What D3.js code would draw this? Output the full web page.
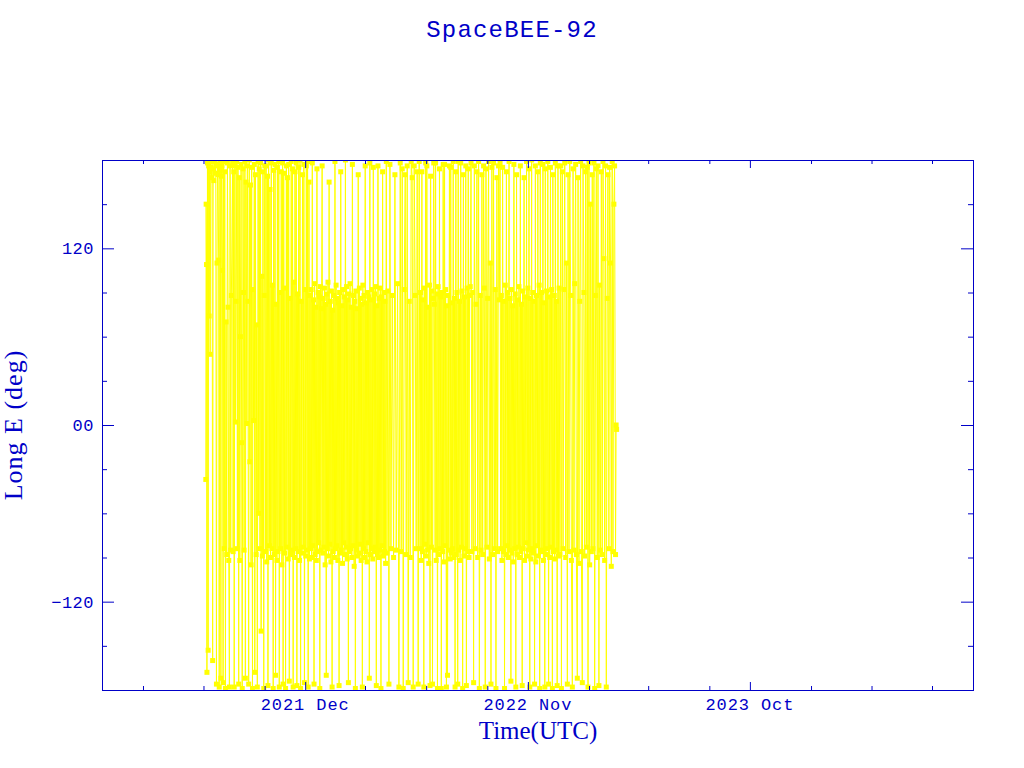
<!DOCTYPE html>
<html><head><meta charset="utf-8">
<script src="https://cdn.jsdelivr.net/npm/d3@7"></script>
<style>body{margin:0;background:#fff}svg{display:block}</style>
</head><body>
<svg id="c" width="1024" height="768"></svg>
<script>
// ---- data: day offsets from 2021-07-01 UTC and East longitude (deg) ----
const epoch0 = "2021-07-01";
const daysA = [3.5,4,4.6,5.2,6,7,7.8,8.5,9.3,10,11,12,13,13.8,14.6,15.5,16.5,17.5,18.5,19.5,
  20.3,21.2,22,22.8,23.7,24.5,25.4,26.2,27,27.8,28.6,29.5,30.3,31.2,32,33,34,35,36,37,38,39,40,41,42];
const lonA  = [-37,150,109,-168,178,-153,176,74,172,48,175,168,179,-160,174,166,180,171,177,-176,
  110,176,170,112,-178,178,173,-172,169,176,105,-175,179,-84,172,-179,70,-88,178,80,-92,-178,176,-85,88];
const daysB = [43.8,44.6,45.5,46.2,47.3,48.1,49,50.2,51,51.9,53,53.8,54.7,55.5,56.6,57.4,58.3,59.5,60.2,61.1,
  62.3,63,64,65.2,66,66.8,68,68.9,69.7,70.8,71.6,72.5,73.7,74.4,75.3,76.5,77.2,78.1,79.3,80,
  81,82.2,83,83.9,85,85.8,86.7,87.9,88.6,89.5,90.7,91.4,92.3,93.5,94.2,95.1,96.3,97,98,99.2,
  100,100.9,102,102.8,103.7,104.9,105.6,106.5,107.7,108.4,109.3,110.5,111.2,112.1,113.3,114,115,116.2,117,117.9,
  119,119.8,120.7,121.9,122.6,123.5,124.7,125.4,126.3,127.5,128.2,129.1,130.3,131,132,133.2,134,134.9,136,136.8,
  137.7,138.9,139.6,140.5,141.7,142.4,143.3,144.5,145.2,146.1,147.3,148,149,150.2,151,
  151.9,153,153.8,154.7,155.9,156.6,157.5,158.7,159.4];
const lonB  = [178,-86,172,-178,176,2,84,179,-84,175,-176,168,-92,60,177,-12,-179,174,90,-85,
  179,-172,165,1,176,84,-176,180,-25,163,-95,175,-179,92,3,177,-168,170,-88,68,
  -178,179,-60,174,-84,178,-140,101,-89,172,-179,88,176,-86,176,-93,169,-177,180,-82,
  160,-90,178,-84,95,-179,173,-88,177,-170,82,-92,175,-86,179,-178,90,-84,172,-95,
  178,-176,171,-87,93,-179,176,-83,168,-91,177,-174,86,-88,179,-85,174,-178,97,-90,
  172,-84,178,-177,89,-86,175,-92,180,-179,84,-87,170,-83,177,-175,92,-89,176,-85,
  179,-178,165,-91];
const daysC = [160.3,161,162,162.8,163.7,164.5,165.5,166.3,167.2,168,169,169.8,170.7,171.5,172.5,173.3,174.2,175,176,176.8,
  177.7,178.5,179.5,180.3,181.2,182,183,183.8,184.7,185.5,186.5,187.3,188.2,189,190,190.8,191.7,192.5,193.5,194.3,
  195.2,196,197,197.8,198.7,199.5,200.5,201.3,202.2,203,204,204.8,205.7,206.5,207.5,208.3,209.2,210,211,211.8,
  212.7,213.5,214.5,215.3,216.2,217,218,218.8,219.7,220.5,221.5,222.3,223.2,224,225,225.8,226.7,227.5,228.5,229.3,
  230.2,231,232,232.8,233.7,234.5,235.5,236.3,237.2,238,239,239.8,240.7,241.5,242.5,243.3,244.2,245,246,246.8,
  247.7,248.5,249.5,250.3,251.2,252,253,253.8,254.7,255.5,256.5,257.3,258.2,259,260,260.8,261.7,262.5,263.5,264.3,
  265.2,266,267,267.8,268.7,269.5,270.5,271.3,272.2,273,274,275,276,277.5,279,280.5,282,284,286,288,
  290,292,294];
const lonC  = [88,-84,92,-90,178,-82,85,-176,96,-88,80,-92,174,-86,90,-80,87,-179,94,-85,
  79,176,-87,86,-83,93,-95,82,-170,89,-84,97,-89,165,-81,84,-93,91,-178,78,
  -86,88,-90,179,-84,95,-82,86,-92,83,-177,90,-87,172,-85,81,-94,92,-80,87,
  -88,180,-83,94,-91,85,-175,89,-86,96,-84,80,-90,177,-82,88,-96,84,-179,91,
  -85,79,-89,170,-87,93,-81,86,-92,82,-178,95,-84,88,-90,176,-86,83,-93,90,
  -80,87,-172,178,-88,85,-84,92,-91,175,-86,89,-83,94,-177,81,-88,176,-90,86,
  -85,93,-179,87,-82,172,-89,90,-86,84,-94,179,-87,91,-176,177,-84,88,-90,170,
  -85,96,-178];
const daysD = [296,297.5,299,300.5,302,303.5,305,306.5,308,309.5,311,312.5,314,315.5,317,318.5,320,321.5,323,324.5];
const lonD  = [178,-86,174,-179,92,170,-88,176,-175,84,-90,179,168,-178,176,88,-84,172,-176,179];
const daysE = [325.8,326.7,327.5,328.6,329.4,330.3,331.5,332.2,333.1,334.3,335,336,337.2,338,338.9,340,340.8,341.7,342.9,343.6,
  344.5,345.7,346.4,347.3,348.5,349.2,350.1,351.3,352,353,354.2,355,355.9,357,357.8,358.7,359.9,360.6,361.5,362.7,
  363.4,364.3,365.5,366.2,367.1,368.3,369,370,371.2,372,372.9,374,374.8,375.7,376.9,377.6,378.5,379.7,380.4,381.3,
  382.5,383.2,384.1,385.3,386,387,388.2,389,389.9,391,391.8,392.7,393.9,394.6,395.5,396.7,397.4,398.3,399.5,400.2];
const lonE  = [-84,90,-92,172,-86,85,-178,93,-81,178,-89,176,-85,80,-94,95,-177,169,-83,91,
  -176,86,178,82,-85,178,-92,89,-179,94,-88,174,-84,87,-179,90,-86,177,-93,177,
  -82,92,-178,81,-170,88,-85,176,-91,175,-87,83,-84,179,-90,86,-178,172,-88,90,
  -176,179,-85,84,-92,178,-83,91,-179,170,-89,87,-84,176,-177,93,-86,174,-90,88];
const daysF = [401.3,402.5,403.8,405,406.4,407.5,408.9,410,411.4,412.5,413.9,415,416.4,417.5,418.9,420,421.4,422.5,423.9,425,
  426.4,427.5,428.9,430,431.4,432.5,433.9,435,436.4,437.5,438.9,440,441.4,442.5,443.9,445];
const lonF  = [94,178,-86,90,-175,176,-84,82,172,-90,179,-179,88,-85,170,-88,176,93,-178,174,
  -83,86,179,-91,110,-176,175,-88,178,-84,92,-179,168,-86,176,85];
const daysG = [446.2,447,448.1,449,450,451.2,452,452.9,454,454.8,455.7,456.9,457.6,458.5,459.7,460.4,461.3,462.5,463.2,464.1,
  465.3,466,467,468.2,469,469.9,471,471.8,472.7,473.9,474.6,475.5,476.7,477.4,478.3,479.5,480.2,481.1,482.3,483,
  484,485.2,486,486.9,488,488.8,489.7,490.9,491.6,492.5,493.7,494.4,495.3,496.5,497.2,498.1,499.3,500,501,502.2,
  503,503.9,505,505.8,506.7,507.9,508.6,509.5,510.7,511.4,512.3,513.5,514.2,515.1,516.3,517,518,519.2,520,520.9,
  522,522.8,523.7,524.9,525.6,526.5,527.7,528.4,529.3,530.5,531.2,532.1,533.3,534,535];
const lonG  = [178,-84,88,-92,175,-86,84,-179,95,-88,172,-82,90,-90,179,-85,86,-174,92,-87,
  81,-93,177,-84,89,-178,170,-88,85,-83,94,-90,176,-86,82,-177,91,-84,168,-92,
  87,-80,179,-89,93,-85,174,-178,86,-91,180,-84,90,-87,84,-176,176,-93,88,-82,
  172,-89,95,-179,178,-86,90,-85,177,-92,83,-178,174,-88,91,-84,179,-176,87,-90,
  175,-83,92,-179,170,-86,88,-91,178,-85,84,-177,176,-89,93];
const daysH = [536.2,537.4,538.5,539.9,541,542.4,543.5,544.9,546,547.4,548.5,549.9,551,552.4,553.5,554.9,556,557.4,558.5,559.9,
  561,562.4,563.5,564.9,566,567.4,568.5,569.9,571,572.4,573.5,574.9,576,577.4,578.5,579.9,581,582.4,583.5,584.9,
  586,587.4,588.5,589.9,591,592.4,593.5,594.9,596,597.4,598.5,599.9,601,602.4,603.5,604.9,606,607.4,608.5,609.9,
  611,612.4,613.5,614.9,616,617.4,618.5,619.9,620.8,621.5];
const lonH  = [-88,176,-179,172,-84,92,178,-90,110,-176,170,-86,179,88,-92,-178,174,-85,96,177,
  -88,-172,168,-94,84,179,-86,-175,176,90,-89,172,-83,175,-178,178,-95,150,-86,170,
  -84,178,-179,88,174,-90,176,-177,95,-85,172,-88,179,113,-92,176,-178,86,170,-84,
  175,110,-96,179,-86,150,176,-88,0,-3];

const xDomain = ["2021-01-29T08:00:00Z", "2024-08-31T16:00:00Z"];
const majorTicks = ["2021-12-01","2022-11-01","2023-10-01"];
const majorLabels = ["2021 Dec","2022 Nov","2023 Oct"];
const minorTicks = ["2021-04-01","2021-07-01","2021-10-01","2022-03-01","2022-06-01","2022-09-01",
  "2023-02-01","2023-05-01","2023-08-01","2024-01-01","2024-04-01","2024-07-01"];
const yMajor = [-120, 0, 120];
const yMinor = [-150,-90,-60,-30,30,60,90,150];

// ---- build ----
const dayMs = 864e5;
const t0 = Date.parse(epoch0 + "T00:00:00Z");
const groups = [[daysA,lonA],[daysB,lonB],[daysC,lonC],[daysD,lonD],[daysE,lonE],[daysF,lonF],[daysG,lonG],[daysH,lonH]];
const pts = [];
groups.forEach(([ds, ls]) => {
  const n = Math.min(ds.length, ls.length);
  for (let i = 0; i < n; i++) pts.push({t: new Date(t0 + ds[i]*dayMs), v: ls[i]});
});

const BLUE = "#0000c8", YEL = "#ffff00";
const L = 102, R = 973, T = 160, B = 690;
const svg = d3.select("#c");
svg.append("rect").attr("width",1024).attr("height",768).attr("fill","#fff");

const x = d3.scaleUtc().domain(xDomain.map(d => new Date(d))).range([L, R]);
const y = d3.scaleLinear().domain([-180, 180]).range([B, T]);

svg.append("defs").append("clipPath").attr("id","clip")
  .append("rect").attr("x",L).attr("y",T).attr("width",R-L).attr("height",B-T);

const g = svg.append("g").attr("clip-path","url(#clip)");
g.append("path").datum(pts)
  .attr("d", d3.line().x(d => x(d.t)).y(d => y(d.v)))
  .attr("fill","none").attr("stroke",YEL).attr("stroke-width",1);
g.selectAll("rect.m").data(pts).join("rect").attr("class","m")
  .attr("x", d => x(d.t) - 2.5).attr("y", d => y(d.v) - 2.5)
  .attr("width",5).attr("height",5).attr("fill",YEL);

// frame
svg.append("rect").attr("x",L+0.5).attr("y",T+0.5).attr("width",R-L).attr("height",B-T)
  .attr("fill","none").attr("stroke",BLUE).attr("stroke-width",1);

function styleAxis(sel){
  sel.select(".domain").remove();
  sel.selectAll("line").attr("stroke",BLUE).attr("stroke-width",1);
  sel.selectAll("text").remove();
}
const pd = s => new Date(s + "T00:00:00Z");
svg.append("g").attr("transform",`translate(0,${B})`)
  .call(d3.axisBottom(x).tickValues(minorTicks.map(pd)).tickSize(-4).tickSizeOuter(0)).call(styleAxis);
svg.append("g").attr("transform",`translate(0,${B})`)
  .call(d3.axisBottom(x).tickValues(majorTicks.map(pd)).tickSize(-8).tickSizeOuter(0)).call(styleAxis);
svg.append("g").attr("transform",`translate(0,${T})`)
  .call(d3.axisTop(x).tickValues(minorTicks.map(pd)).tickSize(-4).tickSizeOuter(0)).call(styleAxis);
svg.append("g").attr("transform",`translate(0,${T})`)
  .call(d3.axisTop(x).tickValues(majorTicks.map(pd)).tickSize(-8).tickSizeOuter(0)).call(styleAxis);
svg.append("g").attr("transform",`translate(${L},0)`)
  .call(d3.axisLeft(y).tickValues(yMinor).tickSize(-5).tickSizeOuter(0)).call(styleAxis);
svg.append("g").attr("transform",`translate(${L},0)`)
  .call(d3.axisLeft(y).tickValues(yMajor).tickSize(-12).tickSizeOuter(0)).call(styleAxis);
svg.append("g").attr("transform",`translate(${R},0)`)
  .call(d3.axisRight(y).tickValues(yMinor).tickSize(-5).tickSizeOuter(0)).call(styleAxis);
svg.append("g").attr("transform",`translate(${R},0)`)
  .call(d3.axisRight(y).tickValues(yMajor).tickSize(-12).tickSizeOuter(0)).call(styleAxis);

const MONO = "'Liberation Mono','DejaVu Sans Mono',monospace";
const SERIF = "'Liberation Serif','DejaVu Serif',serif";
svg.append("g").selectAll("text").data(majorTicks).join("text")
  .attr("x", d => x(pd(d))).attr("y", 710).attr("text-anchor","middle")
  .attr("font-family",MONO).attr("font-size",17).attr("letter-spacing",0.9).attr("fill",BLUE)
  .text((d,i) => majorLabels[i]);
svg.append("g").selectAll("text").data(yMajor).join("text")
  .attr("x", 94).attr("y", d => y(d)).attr("dy","0.36em").attr("text-anchor","end")
  .attr("font-family",MONO).attr("font-size",17).attr("letter-spacing",0.5).attr("fill",BLUE)
  .text(d => d === 0 ? "00" : d3.format("d")(d));
svg.append("text").attr("x",512).attr("y",37).attr("text-anchor","middle")
  .attr("font-family",MONO).attr("font-size",24).attr("letter-spacing",1.2).attr("fill",BLUE)
  .text("SpaceBEE-92");
svg.append("text").attr("x",538).attr("y",739).attr("text-anchor","middle")
  .attr("font-family",SERIF).attr("font-size",25).attr("fill",BLUE).text("Time(UTC)");
svg.append("text").attr("transform","translate(22,425) rotate(-90)").attr("text-anchor","middle")
  .attr("font-family",SERIF).attr("font-size",26).attr("letter-spacing",1).attr("fill",BLUE).text("Long E (deg)");
</script>
</body></html>
